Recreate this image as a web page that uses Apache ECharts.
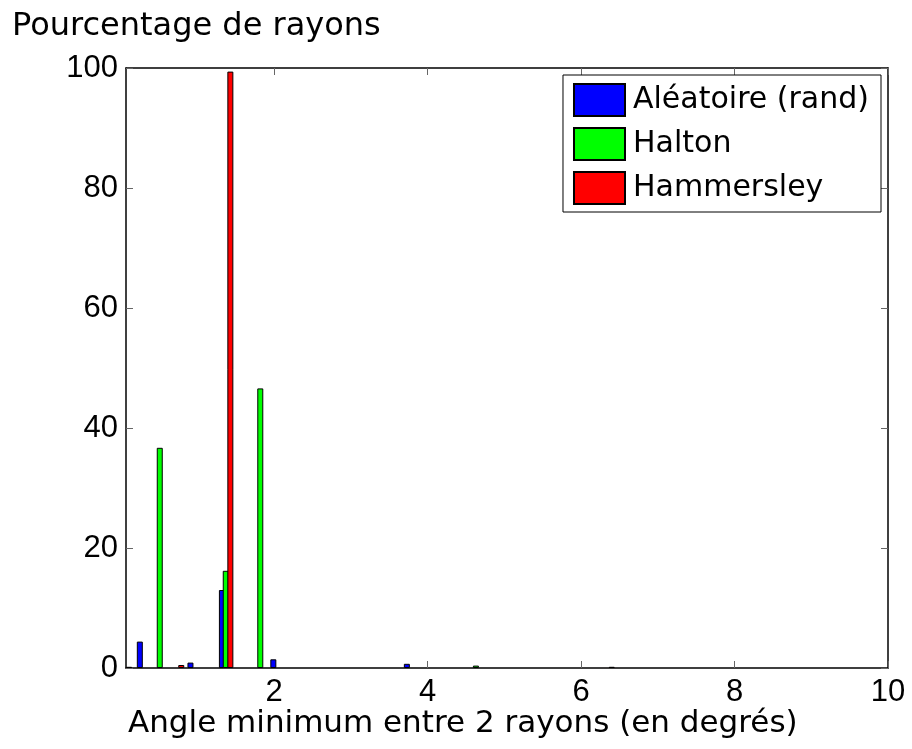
<!DOCTYPE html>
<html>
<head>
<meta charset="utf-8">
<script src="https://cdn.jsdelivr.net/npm/echarts@6/dist/echarts.min.js"></script>
<style>html,body{margin:0;padding:0;background:#fff}#c{width:912px;height:749px}</style>
</head>
<body>
<div id="c"></div>
<script>
// Data (x = angle in degrees, y = percentage of rays)
const seriesNames = ['Aléatoire (rand)', 'Halton', 'Hammersley'];
const randX = [0.25, 0.91, 1.32, 1.99, 3.73];
const randY = [4.4, 0.9, 13.0, 1.45, 0.7];
const haltonX = [0.51, 1.37, 1.82, 4.63];
const haltonY = [36.7, 16.2, 46.6, 0.4];
const hammX = [0.11, 0.79, 1.43, 6.40];
const hammY = [0.2, 0.5, 99.4, 0.2];
const xTicks = [2, 4, 6, 8, 10];
const yTicks = [0, 20, 40, 60, 80, 100];
const colors = ['#0000ff', '#00ff00', '#ff0000'];

const pairs = (xs, ys) => xs.map((x, i) => [x, ys[i]]);
const xMin = 0.07, xMax = 10;
const txtFont = 'DejaVu Sans';
const numFont = 'Liberation Sans';

function hiddenX() {
  return { type: 'value', min: xMin, max: xMax, show: false, gridIndex: 0 };
}

const chart = echarts.init(document.getElementById('c'), null, { renderer: 'canvas' });
chart.setOption({
  backgroundColor: '#fff',
  animation: false,
  grid: { left: 126, right: 24, top: 68, bottom: 81, containLabel: false },
  xAxis: [
    {
      type: 'value', min: xMin, max: xMax, position: 'bottom',
      axisLine: { show: true, onZero: false, lineStyle: { color: '#000', width: 1.5 } },
      axisTick: { show: true, inside: true, length: 7, customValues: xTicks, lineStyle: { color: '#666', width: 1 } },
      axisLabel: { show: true, customValues: xTicks, margin: 9, color: '#000', fontFamily: numFont, fontSize: 31 },
      splitLine: { show: false }
    },
    hiddenX(),
    hiddenX(),
    {
      type: 'value', min: xMin, max: xMax, position: 'top',
      axisLine: { show: true, onZero: false, lineStyle: { color: '#000', width: 1.5 } },
      axisTick: { show: true, inside: true, length: 7, customValues: xTicks, lineStyle: { color: '#666', width: 1 } },
      axisLabel: { show: false },
      splitLine: { show: false }
    }
  ],
  yAxis: [
    {
      type: 'value', min: 0, max: 100, interval: 20, position: 'left',
      axisLine: { show: true, onZero: false, lineStyle: { color: '#000', width: 1.5 } },
      axisTick: { show: true, inside: true, length: 7, lineStyle: { color: '#666', width: 1 } },
      axisLabel: { show: true, margin: 8, color: '#000', fontFamily: numFont, fontSize: 31,
        formatter: v => (yTicks.indexOf(v) >= 0 ? String(v) : '') },
      splitLine: { show: false }
    },
    {
      type: 'value', min: 0, max: 100, interval: 20, position: 'right',
      axisLine: { show: true, onZero: false, lineStyle: { color: '#000', width: 1.5 } },
      axisTick: { show: true, inside: true, length: 7, lineStyle: { color: '#666', width: 1 } },
      axisLabel: { show: false },
      splitLine: { show: false }
    }
  ],
  legend: {
    data: seriesNames,
    orient: 'vertical',
    right: 31, top: 75,
    itemWidth: 51, itemHeight: 32, itemGap: 10,
    padding: [8, 12, 7, 10],
    borderColor: '#000', borderWidth: 1, backgroundColor: '#fff',
    icon: 'rect',
    textStyle: { fontFamily: txtFont, fontSize: 30, color: '#000', padding: [0, 0, 0, 3] }
  },
  series: [
    {
      name: seriesNames[0], type: 'bar', xAxisIndex: 0, yAxisIndex: 0,
      data: pairs(randX, randY), barWidth: 6,
      itemStyle: { color: colors[0], borderColor: '#000', borderWidth: 1 }, z: 2
    },
    {
      name: seriesNames[1], type: 'bar', xAxisIndex: 1, yAxisIndex: 0,
      data: pairs(haltonX, haltonY), barWidth: 6,
      itemStyle: { color: colors[1], borderColor: '#000', borderWidth: 1 }, z: 3
    },
    {
      name: seriesNames[2], type: 'bar', xAxisIndex: 2, yAxisIndex: 0,
      data: pairs(hammX, hammY), barWidth: 6,
      itemStyle: { color: colors[2], borderColor: '#000', borderWidth: 1 }, z: 4
    }
  ],
  graphic: [
    { type: 'text', style: { text: 'Pourcentage de rayons', x: 12, y: 27, verticalAlign: 'middle',
      font: '32px "' + txtFont + '"', fill: '#000' } },
    { type: 'text', style: { text: 'Angle minimum entre 2 rayons (en degrés)', x: 128, y: 724, verticalAlign: 'middle',
      font: '31px "' + txtFont + '"', fill: '#000' } }
  ]
});
</script>
</body>
</html>
